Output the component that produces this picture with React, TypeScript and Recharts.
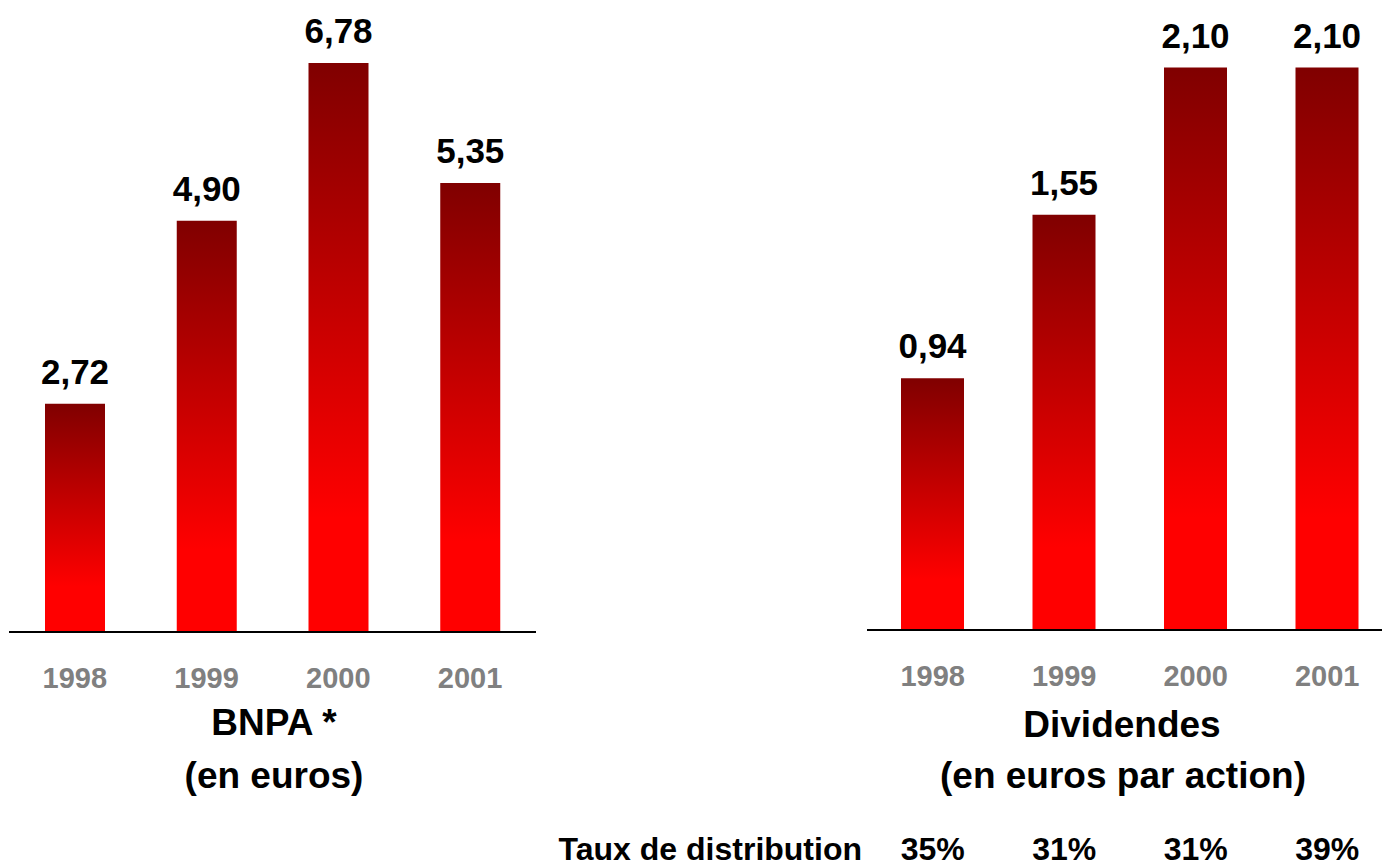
import React from 'react';
import { BarChart, Bar, XAxis, YAxis, LabelList } from 'recharts';

const years = ['1998', '1999', '2000', '2001'];
const bnpaValues = [2.72, 4.9, 6.78, 5.35];
const dividendValues = [0.94, 1.55, 2.1, 2.1];
const payoutRates = ['35%', '31%', '31%', '39%'];

const bnpaData = years.map((year, i) => ({ year, value: bnpaValues[i] }));
const dividendData = years.map((year, i) => ({ year, value: dividendValues[i] }));

const FONT = '"Liberation Sans", Arial, sans-serif';

const fmt = (v: number) => v.toFixed(2).replace('.', ',');

const makeTick = (withRates: boolean) => (props: any) => {
  const { x, y, payload, index } = props;
  return (
    <g>
      <text
        x={x}
        y={y + 56}
        textAnchor="middle"
        fontFamily={FONT}
        fontWeight="bold"
        fontSize={29}
        fill="#808080"
      >
        {payload.value}
      </text>
      {withRates ? (
        <text
          x={x}
          y={y + 230}
          textAnchor="middle"
          fontFamily={FONT}
          fontWeight="bold"
          fontSize={32}
          fill="#000"
        >
          {payoutRates[index]}
        </text>
      ) : null}
    </g>
  );
};

const ValueLabel = (props: any) => {
  const { x, y, width, value } = props;
  return (
    <text
      x={x + width / 2}
      y={y - 20}
      textAnchor="middle"
      fontFamily={FONT}
      fontWeight="bold"
      fontSize={35}
      fill="#000"
    >
      {fmt(value)}
    </text>
  );
};

const Gradient = ({ id }: { id: string }) => (
  <defs>
    <linearGradient id={id} x1="0" y1="0" x2="0" y2="1">
      <stop offset="0" stopColor="#800000" />
      <stop offset="0.8" stopColor="#FF0000" />
      <stop offset="1" stopColor="#FF0000" />
    </linearGradient>
  </defs>
);

export default function App() {
  return (
    <div
      style={{
        position: 'absolute',
        left: 0,
        top: 0,
        width: 1382,
        height: 867,
        overflow: 'hidden',
        background: '#fff',
        fontFamily: FONT,
      }}
    >
      <div style={{ position: 'absolute', left: 9, top: 0 }}>
        <BarChart
          width={527}
          height={867}
          data={bnpaData}
          margin={{ top: 0, right: 0, bottom: 0, left: 0 }}
          barCategoryGap={0}
        >
          <Gradient id="gradLeft" />
          <YAxis hide domain={[0, 7.53]} />
          <XAxis
            dataKey="year"
            height={235}
            tickLine={false}
            tickSize={0}
            tickMargin={0}
            axisLine={{ stroke: '#000', strokeWidth: 2 }}
            tick={makeTick(false)}
            interval={0}
          />
          <Bar dataKey="value" fill="url(#gradLeft)" barSize={60} isAnimationActive={false}>
            <LabelList dataKey="value" content={ValueLabel} />
          </Bar>
        </BarChart>
      </div>

      <div style={{ position: 'absolute', left: 867, top: 0 }}>
        <BarChart
          width={526}
          height={867}
          data={dividendData}
          margin={{ top: 0, right: 0, bottom: 0, left: 0 }}
          barCategoryGap={0}
        >
          <Gradient id="gradRight" />
          <YAxis hide domain={[0, 2.352]} />
          <XAxis
            dataKey="year"
            height={237}
            tickLine={false}
            tickSize={0}
            tickMargin={0}
            axisLine={{ stroke: '#000', strokeWidth: 2 }}
            tick={makeTick(true)}
            interval={0}
          />
          <Bar dataKey="value" fill="url(#gradRight)" barSize={63} isAnimationActive={false}>
            <LabelList dataKey="value" content={ValueLabel} />
          </Bar>
        </BarChart>
      </div>

      <svg
        width={1382}
        height={867}
        style={{ position: 'absolute', left: 0, top: 0, pointerEvents: 'none' }}
      >
        <g fontFamily={FONT} fontWeight="bold" fill="#000">
          <text x={274} y={735} textAnchor="middle" fontSize={37}>BNPA *</text>
          <text x={274} y={788} textAnchor="middle" fontSize={37}>(en euros)</text>
          <text x={1122} y={737} textAnchor="middle" fontSize={37}>Dividendes</text>
          <text x={1123} y={788} textAnchor="middle" fontSize={37}>(en euros par action)</text>
          <text x={862} y={860} textAnchor="end" fontSize={32}>Taux de distribution</text>
        </g>
      </svg>
    </div>
  );
}
